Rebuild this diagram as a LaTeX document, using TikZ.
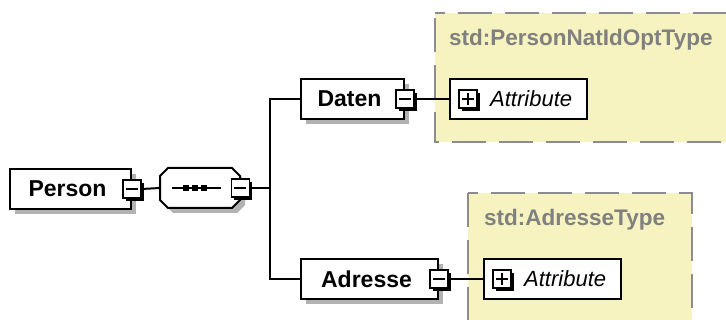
\documentclass[tikz,border=0pt]{standalone}
\usepackage{fontspec}
\setmainfont{Liberation Sans}
\usetikzlibrary{shadows}
\definecolor{typefill}{RGB}{246,243,192}
\definecolor{typeline}{RGB}{140,140,140}
\definecolor{typetext}{RGB}{128,128,128}
\definecolor{shadowgray}{RGB}{178,178,178}
\tikzset{
  elem/.style={draw=black, line width=2pt, fill=white, minimum height=40pt,
    inner sep=0pt, anchor=north west,
    drop shadow={shadow xshift=5pt, shadow yshift=-5pt, fill=shadowgray, opacity=1}},
  elemtext/.style={font=\fontsize{23}{27}\selectfont\bfseries, text=black, inner sep=0pt},
  attrbox/.style={draw=black, line width=2pt, fill=white, minimum height=40pt,
    minimum width=137pt, inner sep=0pt, anchor=north west},
  attrtext/.style={font=\fontsize{22}{26}\selectfont\itshape, text=black, inner sep=0pt, anchor=west},
  toggle/.style={draw=black, line width=1.3pt, fill=white, minimum size=18pt, inner sep=0pt,
    drop shadow={shadow xshift=3pt, shadow yshift=-3pt, fill=black, opacity=1}},
  minusbox/.style={toggle, path picture={
    \draw[line width=1.4pt] ([xshift=3pt]path picture bounding box.west) --
      ([xshift=-3pt]path picture bounding box.east);}},
  plusbox/.style={toggle, path picture={
    \draw[line width=1.4pt] ([xshift=3pt]path picture bounding box.west) --
      ([xshift=-3pt]path picture bounding box.east);
    \draw[line width=1.4pt] ([yshift=-3pt]path picture bounding box.north) --
      ([yshift=3pt]path picture bounding box.south);}},
  typebox/.style={draw=typeline, line width=2.2pt, fill=typefill,
    dash pattern=on 34pt off 13pt, dash phase=24pt},
  typetitle/.style={font=\fontsize{22.5}{26}\selectfont\bfseries, text=typetext,
    inner sep=0pt, anchor=west},
  conn/.style={draw=black, line width=2pt},
}

\begin{document}
\begin{tikzpicture}[x=1pt, y=-1pt]
  \useasboundingbox (0,0) rectangle (726,320);
  \clip (0,0) rectangle (726,320);

  % complex type regions
  \path[typebox] (435,13) -- (760,13) -- (760,142) -- (435,142) -- cycle;
  \node[typetitle] (t1) at (449,40) {std:PersonNatIdOptType};
  \path[typebox] (468,193) -- (692,193) -- (692,350) -- (468,350) -- cycle;
  \node[typetitle] (t2) at (484,220) {std:AdresseType};

  % root element
  \node[elem, minimum width=121pt] (person) at (9,168) {};
  \node[elemtext] (persontxt) at ([xshift=-3pt]person.center) {Person};
  \node[minusbox] (pminus) at (person.east) {};

  % sequence compositor: octagon outline with its shadow
  \node[minimum width=80pt, minimum height=40pt, inner sep=0pt, anchor=west] (seq) at (160,188) {};
  \fill[shadowgray] (173,173) -- (237,173) -- (245,181) -- (245,205) -- (237,213)
    -- (173,213) -- (165,205) -- (165,181) -- cycle;
  \draw[line width=2pt, fill=white] (168,168) -- (232,168) -- (240,176) -- (240,200)
    -- (232,208) -- (168,208) -- (160,200) -- (160,176) -- cycle;
  \node[minusbox] (sminus) at (seq.east) {};
  \draw[line width=1.4pt] ([xshift=12pt]seq.west) -- ([xshift=61pt]seq.west);
  \foreach \dx in {185.5,194.5,203.5}
    \fill[black] (\dx-3,185) rectangle (\dx+3,191);

  % child elements
  \node[elem, minimum width=103pt] (daten) at (300,78) {};
  \node[elemtext] (datentxt) at ([xshift=-3pt]daten.center) {Daten};
  \node[minusbox] (dminus) at (daten.east) {};

  \node[elem, minimum width=137pt] (adresse) at (300,258) {};
  \node[elemtext] (adressetxt) at ([xshift=-3pt]adresse.center) {Adresse};
  \node[minusbox] (aminus) at (adresse.east) {};

  % attribute groups
  \node[attrbox] (attr1) at (449,78) {};
  \node[plusbox] (plus1) at ([xshift=19pt]attr1.west) {};
  \node[attrtext] (attr1txt) at ([xshift=41pt]attr1.west) {Attribute};

  \node[attrbox] (attr2) at (483,258) {};
  \node[plusbox] (plus2) at ([xshift=19pt]attr2.west) {};
  \node[attrtext] (attr2txt) at ([xshift=41pt]attr2.west) {Attribute};

  % connectors
  \coordinate (fork) at (270,188);
  \draw[conn] (pminus.east) -- (seq.west);
  \draw[conn] (sminus.east) -- (fork);
  \draw[conn] (fork) |- (daten.west);
  \draw[conn] (fork) |- (adresse.west);
  \draw[conn] (dminus.east) -- (attr1.west);
  \draw[conn] (aminus.east) -- (attr2.west);
\end{tikzpicture}
\end{document}
